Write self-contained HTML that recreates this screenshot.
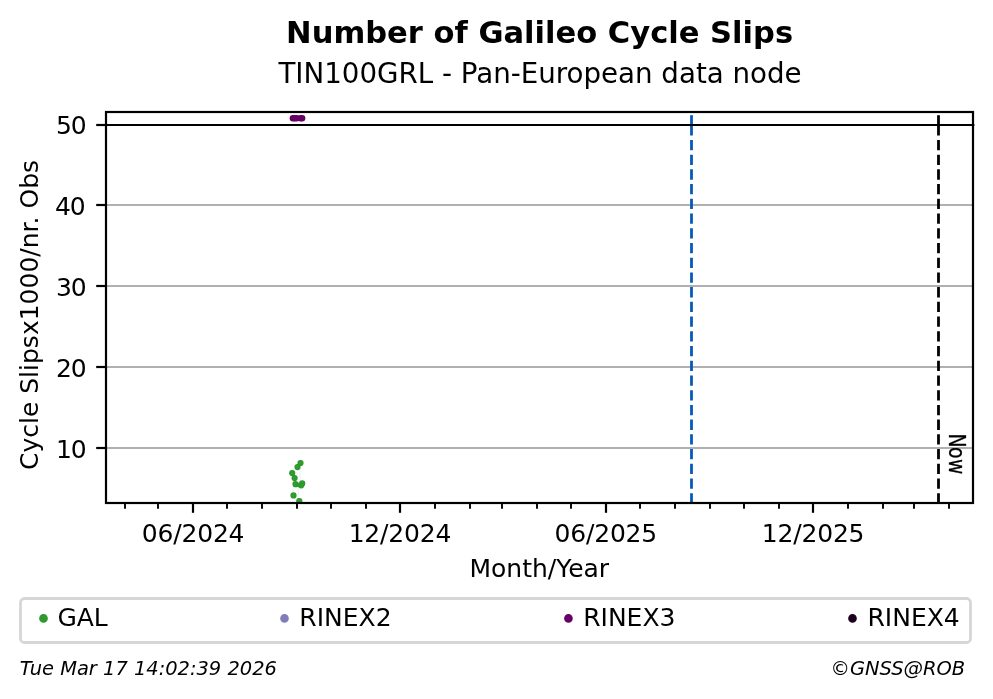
<!DOCTYPE html>
<html lang="en"><head><meta charset="utf-8"><title>Number of Galileo Cycle Slips</title>
<style>
html,body{margin:0;padding:0;background:#fff;}
svg{display:block;will-change:transform;font-family:'DejaVu Sans','Liberation Sans',sans-serif;}
text{fill:#000;}
</style></head><body>
<svg width="993" height="699" viewBox="0 0 993 699">
<rect width="993" height="699" fill="#fff"/>
<defs><clipPath id="ax"><rect x="106.0" y="112.0" width="867.0" height="391.0"/></clipPath></defs>
<text x="539.6" y="43" font-size="30.56" font-weight="bold" text-anchor="middle">Number of Galileo Cycle Slips</text>
<text x="540" y="82.5" font-size="27.7" text-anchor="middle">TIN100GRL - Pan-European data node</text>
<g stroke="#b0b0b0" stroke-width="2.2">
<line x1="106.0" x2="973.0" y1="205" y2="205"/>
<line x1="106.0" x2="973.0" y1="286" y2="286"/>
<line x1="106.0" x2="973.0" y1="367" y2="367"/>
<line x1="106.0" x2="973.0" y1="448" y2="448"/>
</g>
<text transform="translate(948.9,0) rotate(90) scale(0.803,1)" font-size="23.4" stroke="#000" stroke-width="0.3" x="539.8 556.8 571.5" y="0">Now</text>
<g clip-path="url(#ax)">
<g stroke="#2ca02c" stroke-width="1.6" stroke-opacity="0.07"><line x1="300" x2="300" y1="466" y2="482"/><line x1="298.2" x2="298.2" y1="487.5" y2="498"/><line x1="293" x2="293" y1="487" y2="492.5"/></g>
<g fill="#349a34" stroke="#2a982a" stroke-width="1.2">
<circle cx="300.5" cy="463.0" r="2.5"/>
<circle cx="297.5" cy="467.1" r="2.5"/>
<circle cx="292.2" cy="473.0" r="2.5"/>
<circle cx="294.6" cy="478.1" r="2.5"/>
<circle cx="295.5" cy="484.2" r="2.5"/>
<circle cx="302.2" cy="483.4" r="2.5"/>
<circle cx="301.2" cy="485.3" r="2.5"/>
<circle cx="293.5" cy="495.4" r="2.5"/>
<circle cx="299.3" cy="501.0" r="2.5"/>
<circle cx="298.4" cy="485.0" r="1.6"/>
</g>
<g fill="#660066">
<circle cx="292.9" cy="118.3" r="3.25"/>
<circle cx="294.5" cy="118.3" r="3.25"/>
<circle cx="296.5" cy="118.3" r="3.25"/>
<circle cx="300.4" cy="118.3" r="3.25"/>
<circle cx="302.1" cy="118.3" r="3.25"/>
</g>
<g stroke="#045ab6" stroke-width="2.78"><line x1="691.5" x2="691.5" y1="503.48" y2="125" stroke-dasharray="10.28 4.44"/><line x1="691.5" x2="691.5" y1="125.2" y2="115.2"/></g>
<g stroke="#000" stroke-width="2.78"><line x1="938.5" x2="938.5" y1="503.48" y2="125" stroke-dasharray="10.28 4.44"/><line x1="938.5" x2="938.5" y1="125.2" y2="115.2"/></g>
</g>
<line x1="106.0" x2="974.4" y1="125" y2="125" stroke="#000" stroke-width="2.1"/>
<rect x="106.0" y="112.0" width="867.0" height="391.0" fill="none" stroke="#000" stroke-width="2.2"/>
<g stroke="#000" stroke-width="2.2">
<line x1="96.2" x2="106.0" y1="125" y2="125"/>
<line x1="96.2" x2="106.0" y1="205" y2="205"/>
<line x1="96.2" x2="106.0" y1="286" y2="286"/>
<line x1="96.2" x2="106.0" y1="367" y2="367"/>
<line x1="96.2" x2="106.0" y1="448" y2="448"/>
<line x1="193" x2="193" y1="503.0" y2="512.8"/>
<line x1="400" x2="400" y1="503.0" y2="512.8"/>
<line x1="606" x2="606" y1="503.0" y2="512.8"/>
<line x1="813" x2="813" y1="503.0" y2="512.8"/>
</g>
<g stroke="#000" stroke-width="1.9">
<line x1="125" x2="125" y1="503.0" y2="508.7"/>
<line x1="158" x2="158" y1="503.0" y2="508.7"/>
<line x1="227" x2="227" y1="503.0" y2="508.7"/>
<line x1="262" x2="262" y1="503.0" y2="508.7"/>
<line x1="297" x2="297" y1="503.0" y2="508.7"/>
<line x1="331" x2="331" y1="503.0" y2="508.7"/>
<line x1="366" x2="366" y1="503.0" y2="508.7"/>
<line x1="435" x2="435" y1="503.0" y2="508.7"/>
<line x1="470" x2="470" y1="503.0" y2="508.7"/>
<line x1="502" x2="502" y1="503.0" y2="508.7"/>
<line x1="537" x2="537" y1="503.0" y2="508.7"/>
<line x1="571" x2="571" y1="503.0" y2="508.7"/>
<line x1="640" x2="640" y1="503.0" y2="508.7"/>
<line x1="675" x2="675" y1="503.0" y2="508.7"/>
<line x1="710" x2="710" y1="503.0" y2="508.7"/>
<line x1="744" x2="744" y1="503.0" y2="508.7"/>
<line x1="779" x2="779" y1="503.0" y2="508.7"/>
<line x1="848" x2="848" y1="503.0" y2="508.7"/>
<line x1="883" x2="883" y1="503.0" y2="508.7"/>
<line x1="914" x2="914" y1="503.0" y2="508.7"/>
<line x1="949" x2="949" y1="503.0" y2="508.7"/>
</g>
<g font-size="25" text-anchor="end" letter-spacing="-1.3">
<text x="85.3" y="134">50</text>
<text x="84.3" y="215">40</text>
<text x="85.3" y="296">30</text>
<text x="85.3" y="377">20</text>
<text x="85.3" y="458">10</text>
</g>
<g font-size="25" text-anchor="middle" letter-spacing="-0.2">
<text x="193.1" y="542">06/2024</text>
<text x="399.9" y="542">12/2024</text>
<text x="605.8" y="542">06/2025</text>
<text x="813.1" y="542">12/2025</text>
</g>
<g font-size="25" text-anchor="middle">
<text x="539.3" y="576.7">Month/Year</text>
<text transform="translate(37.8,315) rotate(-90)">Cycle Slipsx1000/nr. Obs</text>
</g>
<rect x="20.5" y="598.5" width="950" height="44" rx="4" ry="4" fill="#fff" stroke="#d6d6d6" stroke-width="2.78"/>
<g font-size="25">
<circle cx="43.5" cy="618.4" r="3.7" fill="#329832" stroke="#2a962a" stroke-width="1.2"/><text x="57.4" y="625.8">GAL</text>
<circle cx="284.5" cy="618.4" r="3.7" fill="#807dba" stroke="#807dba" stroke-width="1.2"/><text x="299.35" y="625.8">RINEX2</text>
<circle cx="568.45" cy="618.4" r="3.7" fill="#660066" stroke="#660066" stroke-width="1.2"/><text x="583.15" y="625.8">RINEX3</text>
<circle cx="852.5" cy="618.4" r="3.7" fill="#1d001e" stroke="#1d001e" stroke-width="1.2"/><text x="867.5" y="625.8">RINEX4</text>
</g>
<g font-size="19.44" font-style="italic">
<text x="19.8" y="674.8">Tue Mar 17 14:02:39 2026</text>
<text x="965.1" y="674.8" text-anchor="end">©GNSS@ROB</text>
</g>
</svg>
</body></html>
